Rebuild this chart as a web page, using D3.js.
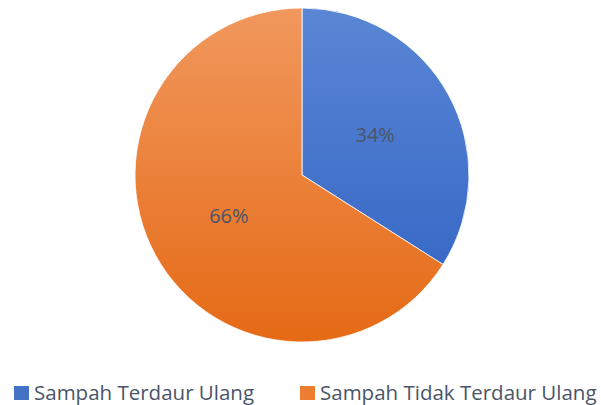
<!DOCTYPE html>
<html>
<head>
<meta charset="utf-8">
<script src="https://cdn.jsdelivr.net/npm/d3@7"></script>
<style>
  body { margin: 0; background: #fff; }
  text { font-family: "Open Sans", "Noto Sans", sans-serif; }
</style>
</head>
<body>
<script>
// data
var categories = ["Sampah Terdaur Ulang", "Sampah Tidak Terdaur Ulang"];
var values = [34, 66];
var labels = ["34%", "66%"];
var colors = ["#4472c4", "#ed7d31"];

var width = 601, height = 405;
var cx = 302, cy = 175, radius = 167;

var svg = d3.select("body").append("svg")
    .attr("width", width)
    .attr("height", height);

// gradients, light at the top, darker at the bottom
var defs = svg.append("defs");
var grads = [["#5a86d5", "#2e61c2"], ["#f1985e", "#e56a15"]];
grads.forEach(function(g, i) {
  var lg = defs.append("linearGradient")
      .attr("id", "g" + i)
      .attr("gradientUnits", "userSpaceOnUse")
      .attr("x1", 0).attr("y1", -radius)
      .attr("x2", 0).attr("y2", radius);
  lg.append("stop").attr("offset", "0%").attr("stop-color", g[0]);
  lg.append("stop").attr("offset", "100%").attr("stop-color", g[1]);
});

var pie = d3.pie().sort(null).value(function(d) { return d; });
var arc = d3.arc().innerRadius(0).outerRadius(radius);
var labelArc = d3.arc().innerRadius(radius * 0.5).outerRadius(radius * 0.5);

var g = svg.append("g")
    .attr("transform", "translate(" + cx + "," + cy + ")");

var slices = pie(values);

g.selectAll("path")
    .data(slices)
  .enter().append("path")
    .attr("d", arc)
    .attr("fill", function(d, i) { return "url(#g" + i + ")"; })
    .attr("stroke", "#fff")
    .attr("stroke-width", 0.8);

g.selectAll(".lbl")
    .data(slices)
  .enter().append("text")
    .attr("class", "lbl")
    .attr("transform", function(d) { return "translate(" + labelArc.centroid(d) + ")"; })
    .attr("text-anchor", "middle")
    .attr("dy", "0.38em")
    .style("font-size", "20px")
    .style("fill", "#4a5568")
    .text(function(d, i) { return labels[i]; });

// legend
var legendX = [14, 300];
var legend = svg.selectAll(".leg")
    .data(categories)
  .enter().append("g")
    .attr("class", "leg")
    .attr("transform", function(d, i) { return "translate(" + legendX[i] + ",386)"; });

legend.append("rect")
    .attr("width", 15).attr("height", 14)
    .attr("fill", function(d, i) { return colors[i]; });

legend.append("text")
    .attr("x", 20)
    .attr("y", 14)
    .style("font-size", "20.5px")
    .style("fill", "#4a5568")
    .text(function(d) { return d; });
</script>
</body>
</html>
